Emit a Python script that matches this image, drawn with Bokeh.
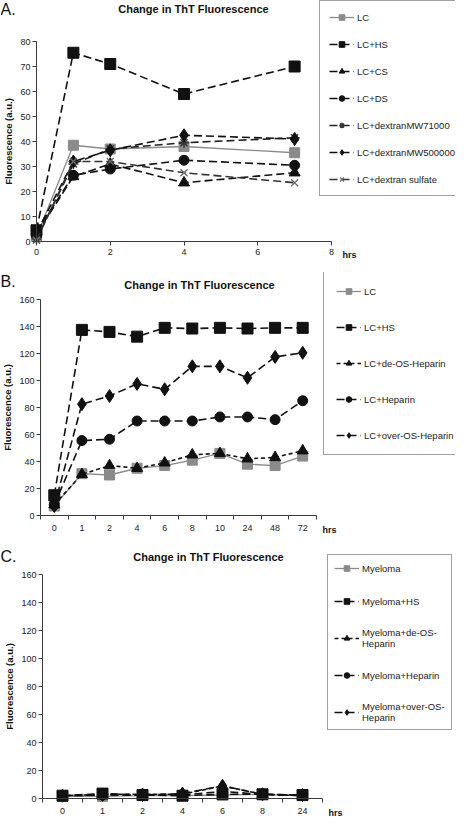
from bokeh.plotting import figure
from bokeh.models import Range1d, FixedTicker, Legend, LegendItem, Label
from bokeh.layouts import column
from bokeh.embed import file_html
from bokeh.resources import INLINE

FONT = "Liberation Sans"
TITLE = "Change in ThT Fluorescence"
Y_LABEL = "Fluorescence (a.u.)"

# ---------------- Panel A data ----------------
a_hours = [0, 1, 2, 4, 7]
a_lc = [2, 38.5, 37, 38, 35.5]
a_hs = [4.5, 75.5, 71, 59, 70]
a_cs = [3, 26, 31, 23.5, 27.5]
a_ds = [4, 26.5, 29, 32.5, 30.5]
a_dex71 = [1, 31, 37, 39.5, 41.5]
a_dex500 = [3.5, 32, 36.5, 42.5, 41]
a_dexsulf = [0.5, 32, 32, 27.5, 23.5]
a_names = ["LC", "LC+HS", "LC+CS", "LC+DS", "LC+dextranMW71000",
           "LC+dextranMW500000", "LC+dextran sulfate"]
a_xticks = [0, 2, 4, 6, 8]
a_yticks = [0, 10, 20, 30, 40, 50, 60, 70, 80]

# ---------------- Panel B data ----------------
b_hours = ["0", "1", "2", "4", "6", "8", "10", "24", "48", "72"]
b_lc = [7, 31, 30, 35, 37, 41, 46, 38, 37, 44]
b_hs = [15, 137.5, 136, 132.5, 139, 138.5, 139, 138.5, 139, 139]
b_deos = [8, 30.5, 37, 35, 39, 45, 46, 42, 43, 48]
b_hep = [8, 55.5, 56.5, 70, 70, 70, 73, 73, 71, 85]
b_overos = [7, 82.5, 88.5, 97.5, 93.5, 110.5, 110.5, 102, 117.5, 120.5]
b_names = ["LC", "LC+HS", "LC+de-OS-Heparin", "LC+Heparin", "LC+over-OS-Heparin"]
b_yticks = [0, 20, 40, 60, 80, 100, 120, 140, 160]

# ---------------- Panel C data ----------------
c_hours = ["0", "1", "2", "4", "6", "8", "24"]
c_my = [1.5, 1.5, 2, 2, 2.5, 3, 2]
c_hs = [2, 3.5, 2.5, 2, 3, 3, 2.5]
c_deos = [2, 3, 3, 3, 9, 3, 2]
c_hep = [2, 2.5, 2.5, 2.5, 5, 3, 2]
c_overos = [2, 2.5, 2.5, 3.5, 9, 3, 2.5]
c_names = ["Myeloma", "Myeloma+HS", "Myeloma+de-OS-\nHeparin", "Myeloma+Heparin",
           "Myeloma+over-OS-\nHeparin"]
c_yticks = [0, 20, 40, 60, 80, 100, 120, 140, 160]

GRAY = "#8a8a8a"
BLACK = "#111111"
AX = "#3a3a3a"
LONG = "8 4"
SHORT = "4 3"

S_LC = dict(line=GRAY, lw=1.3, dash="solid", marker="square", size=10, fill=GRAY, mline=GRAY)
S_HS = dict(line=BLACK, lw=1.6, dash=LONG, marker="square", size=11, fill=BLACK, mline=BLACK)
S_TRI = dict(line=BLACK, lw=1.6, dash=LONG, marker="triangle", size=11, fill=BLACK, mline=BLACK)
S_TRI_SHORT = dict(line=BLACK, lw=1.6, dash=SHORT, marker="triangle", size=11, fill=BLACK, mline=BLACK)
S_CIR = dict(line=BLACK, lw=1.6, dash=LONG, marker="circle", size=10, fill=BLACK, mline=BLACK)
S_AST = dict(line="#222222", lw=1.6, dash=LONG, marker="asterisk", size=10, fill=None, mline="#333333", mlw=1.5)
S_DIA = dict(line=BLACK, lw=1.6, dash=LONG, marker="diamond", size=13, fill=BLACK, mline=BLACK)
S_X = dict(line="#333333", lw=1.6, dash=LONG, marker="x", size=10, fill=None, mline="#6a6a6a", mlw=1.3)

W = 455


def add_series(p, xs, ys, st, items, label):
    lr = p.line(xs, ys, line_color=st["line"], line_width=st["lw"], line_dash=st["dash"])
    sr = p.scatter(xs, ys, marker=st["marker"], size=st["size"], fill_color=st["fill"],
                   line_color=st["mline"], line_width=st.get("mlw", 1))
    items.append(LegendItem(label=label, renderers=[lr, sr]))


def panel(H, x0_px, x1_px, x_lo, x_hi, y0_px, y1_px, y_hi):
    """Figure whose frame is the whole canvas; axes are pinned at data zero."""
    kx = (x1_px - x0_px) / (x_hi - x_lo)
    ky = (y0_px - y1_px) / y_hi
    xr = Range1d(x_lo - x0_px / kx, x_hi + (W - x1_px) / kx)
    yr = Range1d(-(H - y0_px) / ky, y_hi + y1_px / ky)
    p = figure(width=W, height=H, x_range=xr, y_range=yr, output_backend="svg",
               toolbar_location=None, min_border=0, background_fill_color="white",
               border_fill_color="white")
    p.outline_line_color = None
    p.xgrid.visible = False
    p.ygrid.visible = False
    for ax in (p.xaxis[0], p.yaxis[0]):
        ax.fixed_location = 0
        ax.axis_line_color = AX
        ax.major_tick_line_color = AX
        ax.major_tick_out = 4
        ax.major_tick_in = 0
        ax.minor_tick_line_color = None
        ax.major_label_text_font = FONT
        ax.major_label_text_font_size = "9px"
        ax.major_label_text_color = "#222222"
        ax.major_label_standoff = 3
    ya = p.yaxis[0]
    ya.bounds = (0, y_hi)
    ya.major_label_standoff = 2
    ya.axis_label = Y_LABEL
    ya.axis_label_text_font = FONT
    ya.axis_label_text_font_size = "9.5px"
    ya.axis_label_text_font_style = "bold"
    ya.axis_label_text_color = "#111111"
    ya.axis_label_standoff = 3
    p.xaxis[0].bounds = (x_lo, x_hi)
    return p


def cat_ticks(p, cats, centers):
    xa = p.xaxis[0]
    xa.ticker = FixedTicker(ticks=centers, minor_ticks=list(range(len(cats) + 1)))
    xa.major_label_overrides = {c: lab for c, lab in zip(centers, cats)}
    xa.major_tick_line_color = None
    xa.minor_tick_line_color = AX
    xa.minor_tick_out = 4
    xa.minor_tick_in = 0
    xa.major_label_standoff = 5


def add_text(p, H, fx, fy, text, size, bold=False, align="left"):
    p.add_layout(Label(x=fx, y=H - fy, x_units="screen", y_units="screen", text=text,
                       text_font=FONT, text_font_size=size,
                       text_font_style="bold" if bold else "normal",
                       text_align=align, text_baseline="middle", text_color="#111111"))


def make_legend(items, vx, vy, padding, spacing):
    return Legend(items=items, location=(vx, vy), orientation="vertical",
                  border_line_color="#444444", border_line_width=1,
                  background_fill_color="white", background_fill_alpha=1,
                  padding=padding, spacing=spacing, margin=0,
                  glyph_width=25, glyph_height=14, label_height=14, label_standoff=3,
                  label_text_font=FONT, label_text_font_size="9.5px",
                  label_text_color="#222222")


# ================= Panel A =================
HA = 272
pa = panel(HA, 36, 331, 0, 8, 241, 41, 80)
pa.xaxis[0].ticker = FixedTicker(ticks=a_xticks)
pa.yaxis[0].ticker = FixedTicker(ticks=a_yticks)
items_a = []
for ys, st, nm in zip([a_lc, a_hs, a_cs, a_ds, a_dex71, a_dex500, a_dexsulf],
                      [S_LC, S_HS, S_TRI, S_CIR, S_AST, S_DIA, S_X], a_names):
    add_series(pa, a_hours, ys, st, items_a, nm)
pa.add_layout(make_legend(items_a, 319, 76, 9, 13))
add_text(pa, HA, 0, 9, "A.", "16px")
add_text(pa, HA, 193, 8, TITLE, "11px", bold=True, align="center")
add_text(pa, HA, 342, 254, "hrs", "9px", bold=True)

# ================= Panel B =================
HB = 264
b_x = [i + 0.5 for i, _ in enumerate(b_hours)]
pb = panel(HB, 40, 316, 0, len(b_hours), 243, 27, 160)
pb.yaxis[0].ticker = FixedTicker(ticks=b_yticks)
cat_ticks(pb, b_hours, b_x)
items_b = []
for ys, st, nm in zip([b_lc, b_hs, b_deos, b_hep, b_overos],
                      [S_LC, S_HS, S_TRI_SHORT, S_CIR, S_DIA], b_names):
    add_series(pb, b_x, ys, st, items_b, nm)
pb.add_layout(make_legend(items_b, 323, 81, 12, 22))
add_text(pb, HB, 0, 9, "B.", "16px")
add_text(pb, HB, 199, 12, TITLE, "11px", bold=True, align="center")
add_text(pb, HB, 322, 257, "hrs", "9px", bold=True)

# ================= Panel C =================
HC = 282
c_x = [i + 0.5 for i, _ in enumerate(c_hours)]
pc = panel(HC, 42, 322, 0, len(c_hours), 262, 38, 160)
pc.yaxis[0].ticker = FixedTicker(ticks=c_yticks)
cat_ticks(pc, c_hours, c_x)
items_c = []
for ys, st, nm in zip([c_my, c_hs, c_deos, c_hep, c_overos],
                      [S_LC, S_HS, S_TRI_SHORT, S_CIR, S_DIA], c_names):
    add_series(pc, c_x, ys, st, items_c, nm)
pc.add_layout(make_legend(items_c, 327, 88, 6, 19))
add_text(pc, HC, 0, 20, "C.", "16px")
add_text(pc, HC, 208, 20, TITLE, "11px", bold=True, align="center")
add_text(pc, HC, 328, 276, "hrs", "9px", bold=True)

layout = column(pa, pb, pc, spacing=0)
open("out.html", "w").write(file_html(layout, INLINE))
